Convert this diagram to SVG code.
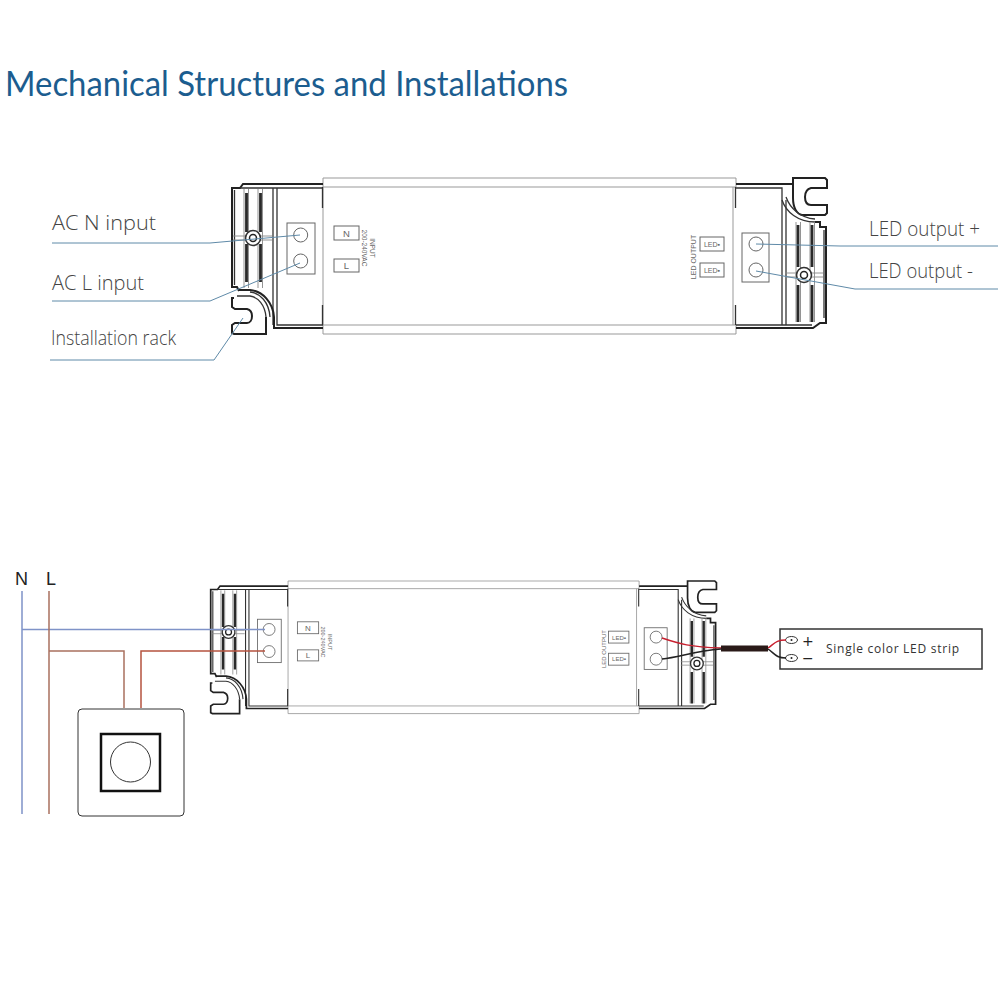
<svg xmlns="http://www.w3.org/2000/svg" xmlns:xlink="http://www.w3.org/1999/xlink" width="1000" height="1000" viewBox="0 0 1000 1000">
<style>
text{font-family:"Open Sans","Liberation Sans",sans-serif}
.title{font-family:Lato,"Open Sans",sans-serif;font-weight:400;font-size:35px;fill:#1c5d8f}
.lab{font-weight:300;font-size:20px;fill:#444}
.tiny{font-family:"Liberation Sans",sans-serif;fill:#666}
.mains{font-family:"Liberation Sans",sans-serif;font-size:18px;fill:#222}
.sign{font-family:"DejaVu Sans",sans-serif;font-size:14px;fill:#222}
.o{fill:none;stroke:#222;stroke-width:2}
.t{fill:none;stroke:#333;stroke-width:1.300}
.r{fill:none;stroke:#888;stroke-width:.9}
.g{fill:none;stroke:#999;stroke-width:1}
.b{fill:#fff;stroke:#666;stroke-width:1}
.h{fill:none;stroke:#2a2a2a;stroke-width:2.800}
.lead{fill:none;stroke:#5f8aa8;stroke-width:1}
</style>
<defs>
<g id="driver">
<path class="g" d="M323 178H736V187H323ZM323 325H736V334H323ZM323 187V325M733 187V325"/>
<path class="t" d="M322.500 187V208M322.500 305V325M735.500 187V208M735.500 305V325"/>
<path class="o" d="M323 184H243L240 188H232V287H237L239 291"/>
<path class="t" d="M240 188H323M273 188V325M277 188V325H323M234.500 190V285"/>
<path class="o" d="M323 328H274V317C273 303 263 291 250 290H238"/>
<path class="t" d="M266 317C265 305 258 297 250 296H237M270 317C269 302 260 293 250 292"/>
<path class="o" d="M234 298H232V307L235 309H247C251 310 252 313 252 316C252 320 250 323 247 323H235L232 325V333L234 334H266V317"/>
<path class="r" d="M244 189V288M248.500 189V288M258 189V288M262.500 189V288M233 236H272M233 240H272"/>
<path class="h" d="M246.500 193V232M246.500 244V282M260.500 193V232M260.500 244V282"/>
<circle cx="253" cy="238" r="7.500" fill="#fff" stroke="#333" stroke-width="1.600"/>
<circle cx="253" cy="238" r="3.500" fill="#fff" stroke="#222" stroke-width="1.500"/>
<rect class="b" x="287" y="223" width="28" height="51"/>
<circle class="b" cx="300.700" cy="235" r="7"/>
<circle class="b" cx="300.700" cy="261" r="7"/>
<rect class="b" x="334" y="226" width="25" height="14"/>
<rect class="b" x="334" y="259" width="25" height="13"/>

<path class="o" d="M736 184H793M736 328H813L820 323H826V227H820V222H815"/>
<path class="t" d="M736 188H782V325M786 200V325M736 325H812M824 230V318"/>
<path class="o" d="M793 184V178H825L827 180V188H811C807 189 805 193 805 197C805 202 807 205 811 205H827V213L825 215H802C797 214 793 208 793 198V184"/>
<path class="t" d="M782 200C786 212 798 222 815 222M786 197C790 208 800 218 815 219"/>
<path class="r" d="M796 222V322M800.500 222V322M810 222V322M814.500 222V322M785 273H823M785 277H823"/>
<path class="h" d="M798 225V267M798 285V322M812 225V267M812 285V322"/>
<circle cx="804" cy="275" r="7.500" fill="#fff" stroke="#333" stroke-width="1.600"/>
<circle cx="804" cy="275" r="3.500" fill="#fff" stroke="#222" stroke-width="1.500"/>
<rect class="b" x="742" y="233" width="27" height="49"/>
<circle class="b" cx="756" cy="244" r="7"/>
<circle class="b" cx="756" cy="270" r="7"/>
<rect class="b" x="700" y="237" width="24" height="14"/>
<rect class="b" x="700" y="263" width="24" height="14"/>
</g>
</defs>

<text id="title" class="title" x="5" y="96" textLength="563" lengthAdjust="spacingAndGlyphs">Mechanical Structures and Installations</text>

<g id="driver-top">
<use xlink:href="#driver" href="#driver"/>
<text class="tiny" x="346.500" y="236.500" font-size="9.500" text-anchor="middle">N</text>
<text class="tiny" x="346.500" y="269" font-size="9.500" text-anchor="middle">L</text>
<text class="tiny" transform="translate(370,248) rotate(90)" font-size="6.500" text-anchor="middle">INPUT</text>
<text class="tiny" transform="translate(362,248) rotate(90)" font-size="6.500" text-anchor="middle">200-240VAC</text>
<text class="tiny" transform="translate(696,257) rotate(-90)" font-size="7" text-anchor="middle">LED OUTPUT</text>
<text class="tiny" x="712" y="247" font-size="7" text-anchor="middle">LED▪</text>
<text class="tiny" x="712" y="273" font-size="7" text-anchor="middle">LED▪</text>
</g>

<g id="labels-top">
<text class="lab" x="52" y="230" textLength="104" lengthAdjust="spacingAndGlyphs">AC N input</text>
<text class="lab" x="52" y="290" textLength="92" lengthAdjust="spacingAndGlyphs">AC L input</text>
<text class="lab" x="51" y="345" textLength="125" lengthAdjust="spacingAndGlyphs">Installation rack</text>
<text class="lab" x="869" y="236" textLength="111" lengthAdjust="spacingAndGlyphs">LED output +</text>
<text class="lab" x="869" y="278" textLength="104" lengthAdjust="spacingAndGlyphs">LED output -</text>
</g>

<g id="leaders">
<path class="lead" d="M52 243H210L300 235"/>
<path class="lead" d="M52 301H210L300 263"/>
<path class="lead" d="M50 360H214L243 318"/>
<path class="lead" d="M756 244L840 246H998"/>
<path class="lead" d="M756 271L855 289H998"/>
</g>

<g id="driver-bottom">
<use xlink:href="#driver" href="#driver" transform="translate(13.500 429.700) scale(.85)"/>
<text class="tiny" x="308" y="631" font-size="8" text-anchor="middle">N</text>
<text class="tiny" x="308" y="658" font-size="8" text-anchor="middle">L</text>
<text class="tiny" transform="translate(328,642) rotate(90)" font-size="5.500" text-anchor="middle">INPUT</text>
<text class="tiny" transform="translate(321,642) rotate(90)" font-size="5.500" text-anchor="middle">200-240VAC</text>
<text class="tiny" transform="translate(606,649) rotate(-90)" font-size="6" text-anchor="middle">LED OUTPUT</text>
<text class="tiny" x="619" y="640" font-size="6" text-anchor="middle">LED▪</text>
<text class="tiny" x="619" y="661" font-size="6" text-anchor="middle">LED▪</text>
</g>

<g id="mains-labels">
<text class="mains" x="15" y="585">N</text>
<text class="mains" x="46" y="585">L</text>
</g>

<g id="dimmer">
<rect x="78" y="709" width="106" height="107" rx="4" fill="#fff" stroke="#333" stroke-width="1"/>
<rect x="101" y="734" width="59" height="57" fill="#fff" stroke="#111" stroke-width="2.500"/>
<circle cx="130.500" cy="762" r="20" fill="#fff" stroke="#333" stroke-width="1"/>
</g>

<g id="led-strip">
<rect x="780" y="629" width="202" height="40" fill="#fff" stroke="#333" stroke-width="1.500"/>
<ellipse cx="791.500" cy="640" rx="6" ry="3.500" fill="#fff" stroke="#333"/>
<ellipse cx="791.500" cy="658" rx="6" ry="3.500" fill="#fff" stroke="#333"/>
<circle cx="791.500" cy="640" r="1" fill="#222"/>
<circle cx="791.500" cy="658" r="1" fill="#222"/>
<text class="sign" x="802" y="645.700">+</text>
<text class="sign" x="802" y="663">−</text>
<text x="826" y="653" font-size="12" textLength="133" fill="#333">Single color LED strip</text>
</g>

<g id="connectors" fill="none">
<path stroke="#7f93c8" stroke-width="1.500" d="M22 591V814M22 629.500H265"/>
<path stroke="#a9705f" stroke-width="1.500" d="M49 591V814M49 651H124V708"/>
<path stroke="#b5533f" stroke-width="1.500" d="M141 708V651H265"/>
<path stroke="#c8202f" stroke-width="1.500" d="M662 638C680 644 690 647 721 648M768 648C775 643 776 640 786 640"/>
<path stroke="#222" stroke-width="1.500" d="M662 659C680 657 695 651 721 649M768 649C775 654 776 658 786 658"/>
<path stroke="#2a1a18" stroke-width="6" d="M721 648.500H768"/>
</g>
</svg>
